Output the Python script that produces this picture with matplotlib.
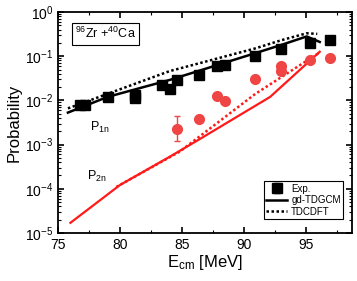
import matplotlib
matplotlib.use("Agg")
from matplotlib import pyplot as plt
from matplotlib.ticker import MultipleLocator, LogLocator, NullFormatter

plt.rcParams['font.family'] = ['Liberation Sans', 'DejaVu Sans']
plt.rcParams['mathtext.fontset'] = 'custom'
plt.rcParams['mathtext.rm'] = 'Liberation Sans'
plt.rcParams['mathtext.it'] = 'Liberation Sans'

# experimental P1n
exp1_e = [76.8, 77.2, 79.0, 81.2, 81.2, 83.4, 84.0, 84.6, 86.4, 87.8, 88.5, 90.9, 93.0, 95.3, 96.9]
exp1_p = [0.0079, 0.0079, 0.012, 0.0135, 0.0115, 0.022, 0.018, 0.029, 0.037, 0.061, 0.063, 0.10, 0.145, 0.20, 0.23]
# experimental P2n
exp2_e = [84.6, 86.4, 87.8, 88.5, 90.9, 93.0, 93.0, 95.3, 96.9]
exp2_p = [0.0023, 0.0038, 0.0126, 0.0097, 0.030, 0.061, 0.047, 0.082, 0.090]

# gd-TDGCM
gd1_e = [75.8, 79.0, 84.0, 90.9, 93.0, 95.05, 96.1]
gd1_p = [0.0053, 0.012, 0.029, 0.117, 0.18, 0.28, 0.21]
gd2_e = [76.0, 80.0, 84.0, 86.3, 92.1, 96.1]
gd2_p = [1.7e-5, 1.22e-4, 5.3e-4, 1.27e-3, 0.012, 0.126]
# TDCDFT
td1_e = [75.8, 84.0, 90.9, 93.0, 95.05, 95.9]
td1_p = [0.0066, 0.046, 0.15, 0.23, 0.33, 0.32]
td2_e = [79.7, 84.8, 90.9, 96.0]
td2_p = [1.1e-4, 6.9e-4, 0.014, 0.117]

red_line = "#ff1a1a"
red_dot = "#f04545"
dots = (0, (1, 1))

fig = plt.figure(figsize=(3.57, 2.81), dpi=100)
ax = fig.add_axes([58/357, 1-233/281, (352-58)/357, (233-12)/281])

ax.plot(gd1_e, gd1_p, "k-", lw=1.8, label="gd-TDGCM")
ax.plot(td1_e, td1_p, color="k", ls=dots, lw=1.8, label="TDCDFT")
ax.plot(gd2_e, gd2_p, "-", color=red_line, lw=1.6)
ax.plot(td2_e, td2_p, color=red_line, ls=dots, lw=1.8)

err1 = [[0.0015, 0.0015] + [0]*13, [0.0006, 0.0006] + [0]*13]
ax.errorbar(exp1_e, exp1_p, yerr=err1, fmt="s", color="k", ms=6.5, capsize=2, elinewidth=1, label="Exp.")
err2 = [[0.0011] + [0]*8, [0.0022] + [0]*8]
ax.errorbar(exp2_e, exp2_p, yerr=err2, fmt="o", color=red_dot, ms=7, capsize=2, elinewidth=1)

ax.set_yscale("log")
ax.set_xlim(75, 98.7)
ax.set_ylim(1e-5, 1)
ax.xaxis.set_major_locator(MultipleLocator(5))
ax.xaxis.set_minor_locator(MultipleLocator(2.5))
ax.yaxis.set_major_locator(LogLocator(base=10, numticks=10))
ax.yaxis.set_minor_locator(LogLocator(base=10, subs=range(2, 10), numticks=10))
ax.yaxis.set_minor_formatter(NullFormatter())
ax.tick_params(which="both", direction="in", top=True, right=True, labelsize=10)
ax.tick_params(which="major", length=4, width=1.2)
ax.tick_params(which="minor", length=2.5, width=0.8)
for s in ax.spines.values():
    s.set_linewidth(1.3)

ax.set_xlabel("E$_{\\rm cm}$ [MeV]", fontsize=12, labelpad=1)
ax.set_ylabel("Probability", fontsize=12, labelpad=2)

ax.text(76.4, 0.32, "$^{96}$Zr +$^{40}$Ca", fontsize=9, va="center",
        bbox=dict(boxstyle="square,pad=0.25", fc="white", ec="k", lw=0.8))
ax.text(77.6, 2.4e-3, "P$_{\\rm 1n}$", fontsize=9, va="center")
ax.text(77.3, 1.9e-4, "P$_{\\rm 2n}$", fontsize=9, va="center")

h, l = ax.get_legend_handles_labels()
order = [2, 0, 1]
leg = ax.legend([h[i] for i in order], [l[i] for i in order], loc="lower right", fontsize=7,
                frameon=True, fancybox=False, edgecolor="k", framealpha=1,
                handlelength=2.2, handletextpad=0.4, borderpad=0.25, labelspacing=0.15,
                borderaxespad=0.3, bbox_to_anchor=(0.98, 0.05))
leg.get_frame().set_linewidth(0.8)

fig.savefig("out.png", dpi=100)
